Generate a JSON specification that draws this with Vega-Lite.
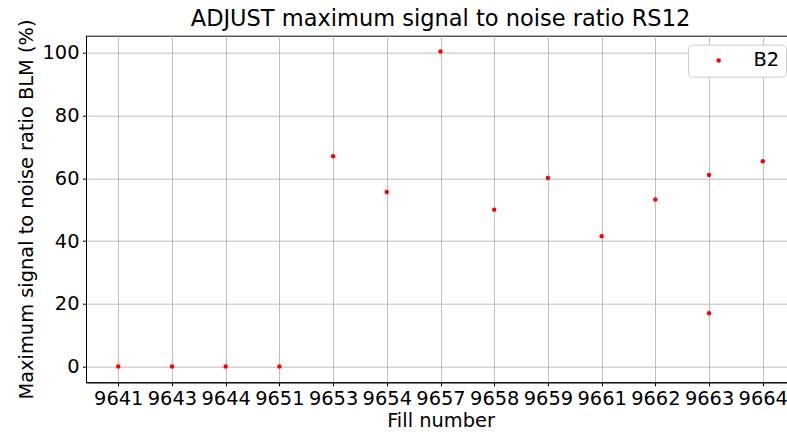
{
  "$schema": "https://vega.github.io/schema/vega-lite/v6.json",
  "autosize": {"type": "none"},
  "padding": {"left": 86, "top": 35.7, "right": 0, "bottom": 49.7},
  "width": 709,
  "height": 346.6,
  "title": {
    "text": "ADJUST maximum signal to noise ratio RS12",
    "font": "DejaVu Sans",
    "fontSize": 22.5,
    "fontWeight": "normal",
    "color": "#000000",
    "anchor": "middle",
    "offset": 6,
    "dy": 18
  },
  "data": {
    "values": [
      {"fill": "9641", "snr": 0, "series": "B2"},
      {"fill": "9643", "snr": 0, "series": "B2"},
      {"fill": "9644", "snr": 0, "series": "B2"},
      {"fill": "9651", "snr": 0, "series": "B2"},
      {"fill": "9653", "snr": 67.0, "series": "B2"},
      {"fill": "9654", "snr": 55.6, "series": "B2"},
      {"fill": "9657", "snr": 100.4, "series": "B2"},
      {"fill": "9658", "snr": 50.0, "series": "B2"},
      {"fill": "9659", "snr": 60.1, "series": "B2"},
      {"fill": "9661", "snr": 41.5, "series": "B2"},
      {"fill": "9662", "snr": 53.2, "series": "B2"},
      {"fill": "9663", "snr": 61.0, "series": "B2"},
      {"fill": "9663", "snr": 17.0, "series": "B2"},
      {"fill": "9664", "snr": 65.4, "series": "B2"}
    ]
  },
  "mark": {"type": "point", "filled": true, "shape": "circle", "opacity": 1, "size": 20},
  "encoding": {
    "x": {
      "field": "fill",
      "type": "ordinal",
      "sort": "ascending",
      "scale": {"type": "point", "padding": 0.6},
      "axis": {"title": "Fill number", "labelAngle": 0, "titlePadding": 4}
    },
    "y": {
      "field": "snr",
      "type": "quantitative",
      "scale": {"domain": [-5.02, 105.42], "nice": false, "zero": false},
      "axis": {"title": "Maximum signal to noise ratio BLM (%)", "values": [0, 20, 40, 60, 80, 100], "titlePadding": 5}
    },
    "color": {
      "field": "series",
      "type": "nominal",
      "scale": {"range": ["#ff0000"]},
      "legend": {"title": null}
    }
  },
  "config": {
    "font": "DejaVu Sans",
    "view": {"stroke": "#000000", "strokeWidth": 1},
    "axis": {
      "labelFont": "DejaVu Sans",
      "labelFontSize": 19.4,
      "labelColor": "#000000",
      "titleFont": "DejaVu Sans",
      "titleFontSize": 19.4,
      "titleFontWeight": "normal",
      "titleColor": "#000000",
      "tickColor": "#000000",
      "tickSize": 3.5,
      "tickWidth": 1,
      "labelPadding": 3.5,
      "domainColor": "#000000",
      "domainWidth": 1,
      "grid": true,
      "gridColor": "#b0b0b0",
      "gridWidth": 0.8
    },
    "legend": {
      "orient": "top-right",
      "offset": 9,
      "fillColor": "#ffffff",
      "strokeColor": "#cccccc",
      "cornerRadius": 4,
      "padding": 6,
      "labelFont": "DejaVu Sans",
      "labelFontSize": 19.4,
      "labelColor": "#000000",
      "symbolType": "circle",
      "symbolSize": 20,
      "symbolOffset": 15,
      "labelOffset": 25
    }
  }
}
